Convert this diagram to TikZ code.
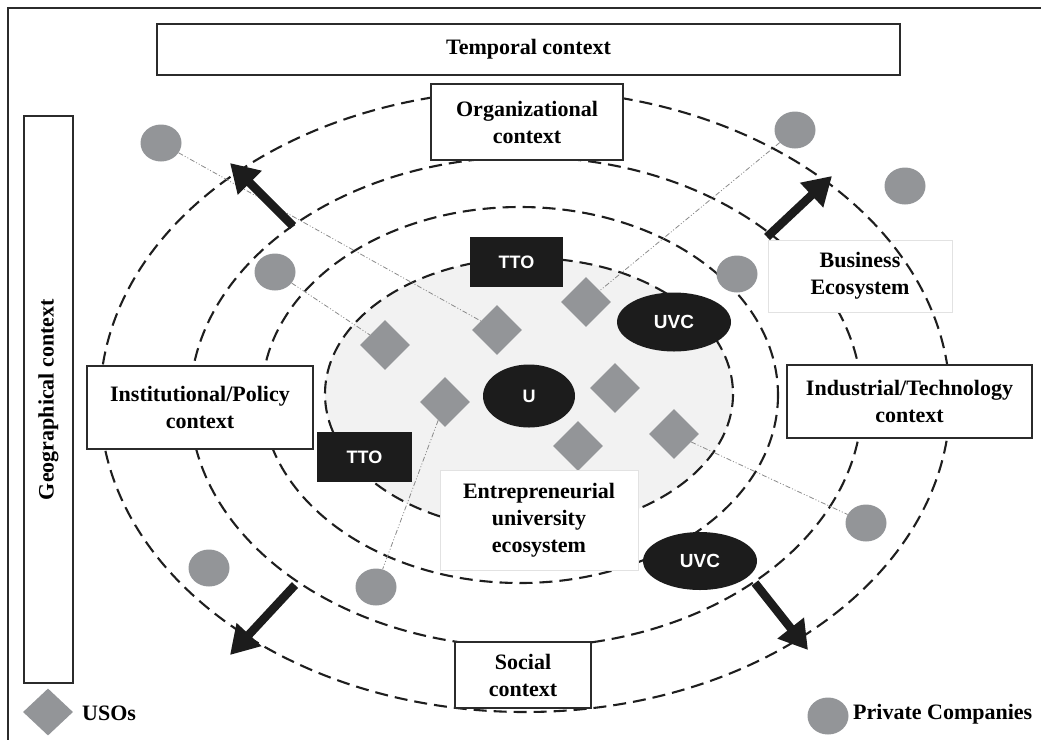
\documentclass[tikz,border=0pt]{standalone}
\usepackage{fontspec}
\setmainfont{Liberation Serif}
\newfontfamily\badgefont{Liberation Sans}
\usepackage{tikz}
\usetikzlibrary{arrows.meta,shapes.geometric}
\definecolor{framecol}{HTML}{2B2B2B}
\definecolor{ringcol}{HTML}{1E1E1E}
\definecolor{darkfill}{HTML}{1C1C1C}
\definecolor{usogray}{HTML}{939598}
\definecolor{ecofill}{HTML}{F2F2F2}
\definecolor{linkcol}{HTML}{8A8A8A}
\definecolor{softedge}{HTML}{E2E2E2}
\newcommand\ctxfont{\bfseries\fontsize{22}{27}\selectfont}
\tikzset{
  ring/.style={draw=ringcol, line width=2.1pt, dash pattern=on 13pt off 7pt},
  ctxbox/.style={draw=framecol, line width=1.6pt, fill=white, inner sep=0pt, align=center, font=\ctxfont},
  softbox/.style={draw=softedge, line width=0.8pt, fill=white, inner sep=0pt, align=center, font=\ctxfont},
  ttobox/.style={fill=darkfill, inner sep=0pt, minimum width=93pt, minimum height=50pt, text=white, font=\badgefont\bfseries\fontsize{18}{20}\selectfont},
  uvcblob/.style={ellipse, fill=darkfill, inner sep=0pt, text=white, font=\badgefont\bfseries\fontsize{19}{21}\selectfont},
  uso/.style={diamond, fill=usogray, minimum width=50pt, minimum height=50pt, inner sep=0pt},
  firm/.style={ellipse, fill=usogray, minimum width=41pt, minimum height=37pt, inner sep=0pt},
  link/.style={draw=linkcol, line width=0.8pt, dash pattern=on 5pt off 2pt on 1pt off 2pt on 1pt off 2pt},
  push/.style={draw=darkfill, line width=8.5pt, -{Triangle[width=32pt,length=28pt]}}
}

\begin{document}
\begin{tikzpicture}[x=1pt,y=-1pt]
\useasboundingbox (0,0) rectangle (1041,740);
\draw[framecol, line width=1.5pt] (1041,8) -- (8,8) -- (8,740);

% rings
\draw[ring, fill=ecofill] (529,394) ellipse [x radius=204, y radius=136];
\draw[ring] (520,395) ellipse [x radius=258, y radius=188];
\draw[ring] (526,402) ellipse [x radius=336, y radius=245];
\node[softbox, minimum width=184pt, minimum height=72pt] (bus) at (860,276) {Business\\Ecosystem};
\draw[ring] (525,401) ellipse [x radius=425, y radius=311];

% companies and USOs
\node[uso] (d1) at (385,345) {};
\node[uso] (d2) at (497,330) {};
\node[uso] (d3) at (586,302) {};
\node[uso] (d4) at (445,402) {};
\node[uso] (d5) at (615,388) {};
\node[uso] (d6) at (578,446) {};
\node[uso] (d7) at (674,434) {};
\node[firm] (c1) at (161,143) {};
\node[firm] (c2) at (275,272) {};
\node[firm] (c3) at (795,130) {};
\node[firm] (c4) at (905,186) {};
\node[firm] (c5) at (737,274) {};
\node[firm] (c6) at (209,568) {};
\node[firm] (c7) at (376,587) {};
\node[firm] (c8) at (866,523) {};

\draw[link] (c1) -- (d2);
\draw[link] (c2) -- (d1);
\draw[link] (c3) -- (d3);
\draw[link] (d7) -- (c8);
\draw[link] (d4) -- (c7);

% contexts
\node[ctxbox, minimum width=743pt, minimum height=51pt] (temp) at (528.5,49.5) {Temporal context};
\node[ctxbox, rotate=90, minimum width=567pt, minimum height=49pt] (geo) at (48.5,399.5) {Geographical context};
\node[ctxbox, minimum width=192pt, minimum height=76pt] (org) at (527,122) {Organizational\\context};
\node[ctxbox, minimum width=226pt, minimum height=83pt] (inst) at (200,407.5) {Institutional/Policy\\context};
\node[ctxbox, minimum width=245pt, minimum height=73pt] (ind) at (909.5,401.5) {Industrial/Technology\\context};
\node[ctxbox, minimum width=136pt, minimum height=66pt] (soc) at (523,675) {Social\\context};
\node[softbox, minimum width=198pt, minimum height=100pt] (eue) at (539,520) {Entrepreneurial\\university\\ecosystem};

\node[ttobox] (tto1) at (516.5,262) {TTO};
\node[ttobox, minimum width=95pt] (tto2) at (364.5,457) {TTO};
\node[uvcblob, minimum width=114pt, minimum height=59pt] (uvc1) at (674,322) {UVC};
\node[uvcblob, minimum width=114pt, minimum height=58pt] (uvc2) at (700,561) {UVC};
\node[uvcblob, minimum width=92pt, minimum height=63pt, font=\badgefont\bfseries\fontsize{18}{20}\selectfont] (u) at (529,396) {U};

% spreading arrows
\coordinate (a1s) at (293,226); \coordinate (a1e) at (230,163);
\coordinate (a2s) at (767,237); \coordinate (a2e) at (832,176);
\coordinate (a3s) at (295,585); \coordinate (a3e) at (230,655);
\coordinate (a4s) at (755,583); \coordinate (a4e) at (808,650);
\draw[push] (a1s) -- (a1e);
\draw[push] (a2s) -- (a2e);
\draw[push] (a3s) -- (a3e);
\draw[push] (a4s) -- (a4e);

% legend
\node[uso, minimum height=47pt] (legd) at (48,712) {};
\node[anchor=west, font=\ctxfont, inner sep=0pt] (legdt) at (82,713) {USOs};
\node[firm] (legc) at (828,716) {};
\node[anchor=west, font=\ctxfont, inner sep=0pt] (legct) at (853,714) {Private Companies};
\end{tikzpicture}
\end{document}
